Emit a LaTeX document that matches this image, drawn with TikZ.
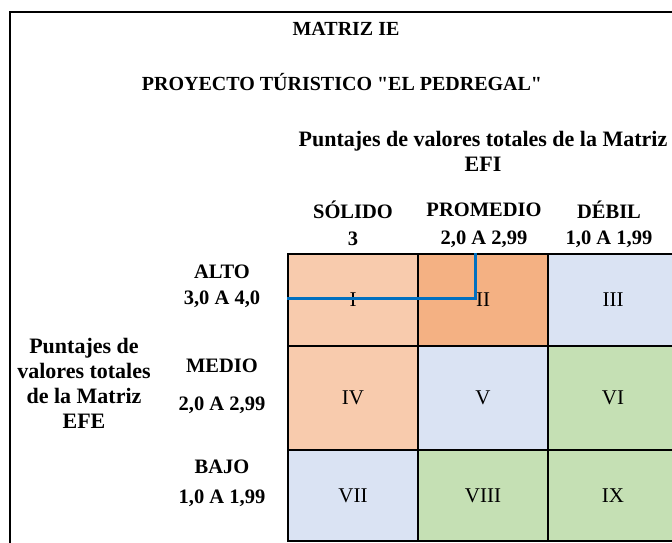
\documentclass[tikz,border=0pt]{standalone}
\usepackage{fontspec}
\setmainfont{Liberation Serif}[Ligatures=TeXOff]
\usepackage{tikz}
\usetikzlibrary{positioning}

\definecolor{naranjaclaro}{HTML}{F8CBAD}
\definecolor{naranja}{HTML}{F4B183}
\definecolor{azulclaro}{HTML}{DAE3F3}
\definecolor{verdeclaro}{HTML}{C5E0B4}
\definecolor{azullinea}{HTML}{0070C0}

\tikzset{
  celda/.style={draw=black, line width=1.3pt, minimum width=130pt, inner sep=0pt,
    font=\fontsize{21}{25}\selectfont},
  titulos/.style={font=\fontsize{20}{24}\selectfont\bfseries, inner sep=0pt},
  encab/.style={font=\fontsize{20.5}{24}\selectfont\bfseries, inner sep=0pt},
  eje/.style={font=\fontsize{22}{25}\selectfont\bfseries, align=center, inner sep=0pt},
  marco/.style={draw=black, line width=2.4pt},
  lineaazul/.style={draw=azullinea, line width=3pt}
}

\begin{document}
\begin{tikzpicture}[x=1pt, y=-1pt]
		\useasboundingbox (0,0) rectangle (672,542);
		\clip (0,0) rectangle (672,542);
		\fill[white] (0,0) rectangle (672,542);
		\draw[marco] (10,12) rectangle (720,600); %% outer frame
		% titles
		\node[titulos] (titulo) at (346,29) {MATRIZ IE};
		\node[titulos] (proyecto) at (342,82) {PROYECTO TÚRISTICO "EL PEDREGAL"};
		\node[eje, anchor=north] (efi) at (483,131) {Puntajes de valores totales de la Matriz\\EFI};
		% column headers
		\node[encab] (solido) at (353,210) {SÓLIDO};
		\node[encab] (promedio) at (484,210) {PROMEDIO};
		\node[encab] (debil) at (609,210) {DÉBIL};
		\node[encab] (v3) at (353,239) {3};
		\node[encab] (v2) at (484,239) {2,0 A 2,99};
		\node[encab] (v1) at (609,239) {1,0 A 1,99};
		% row headers
		\node[encab] (alto) at (222,272) {ALTO};
		\node[encab] (valto) at (222,299) {3,0 A 4,0};
		\node[encab] (medio) at (222,366) {MEDIO};
		\node[encab] (vmedio) at (222,405) {2,0 A 2,99};
		\node[encab] (bajo) at (222,467) {BAJO};
		\node[encab] (vbajo) at (222,498) {1,0 A 1,99};
		\node[eje] (efe) at (84,383) {Puntajes de\\valores totales\\de la Matriz\\EFE};
		% cells of the matrix
		\node[celda, fill=naranjaclaro, minimum height=92pt] (c1) at (353,300) {I};
		\node[celda, fill=naranja, minimum height=92pt] (c2) at (483,300) {II};
		\node[celda, fill=azulclaro, minimum height=92pt] (c3) at (613,300) {III};
		\node[celda, fill=naranjaclaro, minimum height=104pt] (c4) at (353,398) {IV};
		\node[celda, fill=azulclaro, minimum height=104pt] (c5) at (483,398) {V};
		\node[celda, fill=verdeclaro, minimum height=104pt] (c6) at (613,398) {VI};
		\node[celda, fill=azulclaro, minimum height=91pt] (c7) at (353,495.5) {VII};
		\node[celda, fill=verdeclaro, minimum height=91pt] (c8) at (483,495.5) {VIII};
		\node[celda, fill=verdeclaro, minimum height=91pt] (c9) at (613,495.5) {IX};
		% position of the project
		\coordinate (punto) at (475,298);
		\draw[lineaazul] (c1.west |- punto) -- (punto) -- (punto |- c2.north); %% EFE-EFI crossing
	\end{tikzpicture}
\end{document}
